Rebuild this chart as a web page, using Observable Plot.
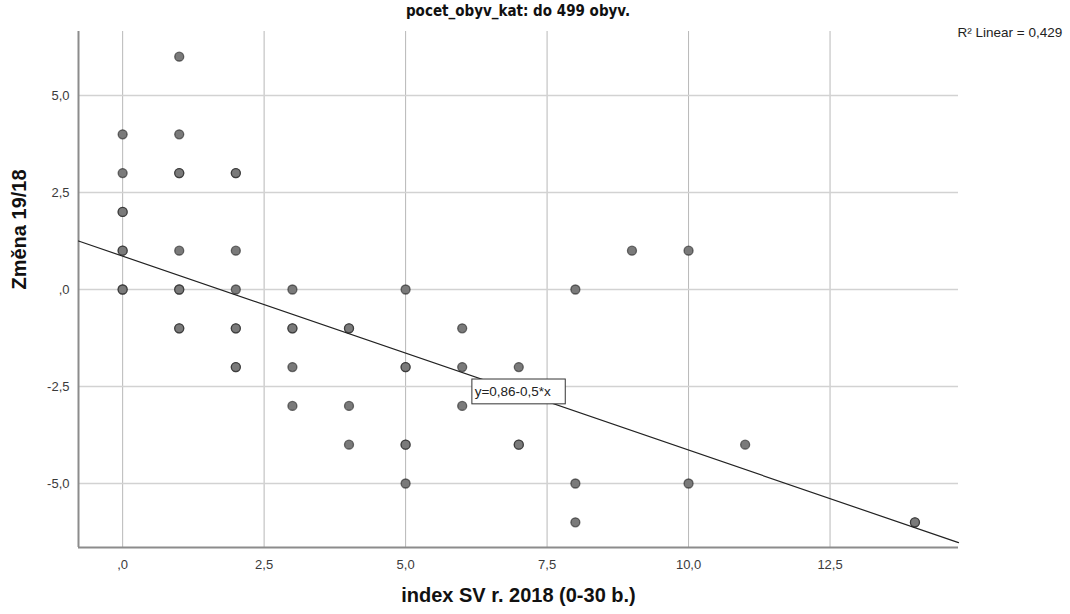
<!DOCTYPE html>
<html><head><meta charset="utf-8">
<script src="https://cdn.jsdelivr.net/npm/d3@7"></script>
<script src="https://cdn.jsdelivr.net/npm/@observablehq/plot@0.6"></script>
<style>
body{margin:0;background:#fff;width:1070px;height:614px;overflow:hidden;position:relative}
#title{position:absolute;left:518px;top:0;transform:translateX(-50%);height:22px;line-height:22px;white-space:nowrap;
 font-weight:bold;font-size:15px;font-family:"Liberation Sans Narrow","DejaVu Sans Condensed","Liberation Sans",sans-serif;color:#111}
#chart{position:absolute;left:0;top:22px}
</style></head><body>
<div id="title">pocet_obyv_kat: do 499 obyv.</div>
<div id="chart"></div>
<script>
// ---- data ----
const titleText = "pocet_obyv_kat: do 499 obyv.";
const xLabel = "index SV r. 2018 (0-30 b.)";
const yLabel = "Změna 19/18";
const xTicks = [0, 2.5, 5, 7.5, 10, 12.5];
const yTicks = [-5, -2.5, 0, 2.5, 5];
const xDomain = [-0.78, 14.77];
const yDomain = [-6.65, 6.65];
// points (duplicates = overlapping cases, drawn darker)
const indexSV = [0,0,0,0,0,0,0,0,
                 1,1,1,1,1,1,1,1,1,
                 2,2,2,2,2,2,2,2,
                 3,3,3,3,3,
                 4,4,4,4,
                 5,5,5,5,5,5,
                 6,6,6,
                 7,7,7,
                 8,8,8,
                 9,
                 10,10,
                 11,
                 14,14];
const zmena   = [4,3,2,2,1,1,0,0,
                 6,4,3,3,1,0,0,-1,-1,
                 3,3,1,0,-1,-1,-2,-2,
                 0,-1,-1,-2,-3,
                 -1,-1,-3,-4,
                 0,-2,-2,-4,-4,-5,
                 -1,-2,-3,
                 -2,-4,-4,
                 0,-5,-6,
                 1,
                 1,-5,
                 -4,
                 -6,-6];
const intercept = 0.86, slope = -0.5;
const eqText = "y=0,86-0,5*x";
const r2Text = "R² Linear = 0,429";

const points = indexSV.map((x, i) => ({x, y: zmena[i]}));
const fit = xDomain.map(x => ({x, y: intercept + slope * x}));
const fmt = d => d === 0 ? ",0" : d.toFixed(1).replace(".", ",");
const font = '"Liberation Sans", Arial, sans-serif';

const plot = Plot.plot({
  width: 1070, height: 592,
  marginLeft: 78, marginRight: 112, marginTop: 9, marginBottom: 67,
  style: {fontFamily: font, fontSize: "13px", color: "#333", background: "#fff"},
  x: {domain: xDomain, label: null},
  y: {domain: yDomain, label: null},
  marks: [
    Plot.gridX(xTicks, {stroke: "#b8b8b8", strokeOpacity: 1, strokeWidth: 1}),
    Plot.gridY(yTicks, {stroke: "#d2d2d2", strokeOpacity: 1, strokeWidth: 1.5}),
    Plot.axisX(xTicks, {tickSize: 0, tickPadding: 12, tickFormat: fmt, label: null, fill: "#3a3a3a", fontSize: 13}),
    Plot.axisY(yTicks, {tickSize: 0, tickPadding: 9, tickFormat: fmt, label: null, fill: "#3a3a3a", fontSize: 13}),
    Plot.ruleX([xDomain[0]], {stroke: "#8c8c8c", strokeWidth: 2}),
    Plot.ruleY([yDomain[0]], {stroke: "#8c8c8c", strokeWidth: 2}),
    Plot.line(fit, {x: "x", y: "y", stroke: "#222", strokeWidth: 1.2}),
    Plot.dot(points, {x: "x", y: "y", r: 4.5, fill: "#7a7a7a", fillOpacity: 1, stroke: "#1e1e1e", strokeOpacity: 0.6, strokeWidth: 1.3}),
    Plot.rect([eqText], {x1: 6.18, x2: 7.83, y1: -2.32, y2: -2.96, fill: "#fff", stroke: "#333", strokeWidth: 1}),
    Plot.text([eqText], {x: 6.22, y: -2.64, text: d => d, textAnchor: "start", fontSize: 13.5, fill: "#222"}),
    Plot.text([r2Text], {frameAnchor: "top-right", text: d => d, textAnchor: "start", dx: -1, dy: -4, fontSize: 13.5, fill: "#222"}),
    Plot.text([xLabel], {frameAnchor: "bottom", text: d => d, dy: 54, fontSize: 20, fontWeight: "bold", fill: "#111"}),
    Plot.text([yLabel], {frameAnchor: "left", text: d => d, dx: -59, rotate: -90, fontSize: 20, fontWeight: "bold", fill: "#111"})
  ]
});
document.getElementById("chart").appendChild(plot);
</script>
</body></html>
